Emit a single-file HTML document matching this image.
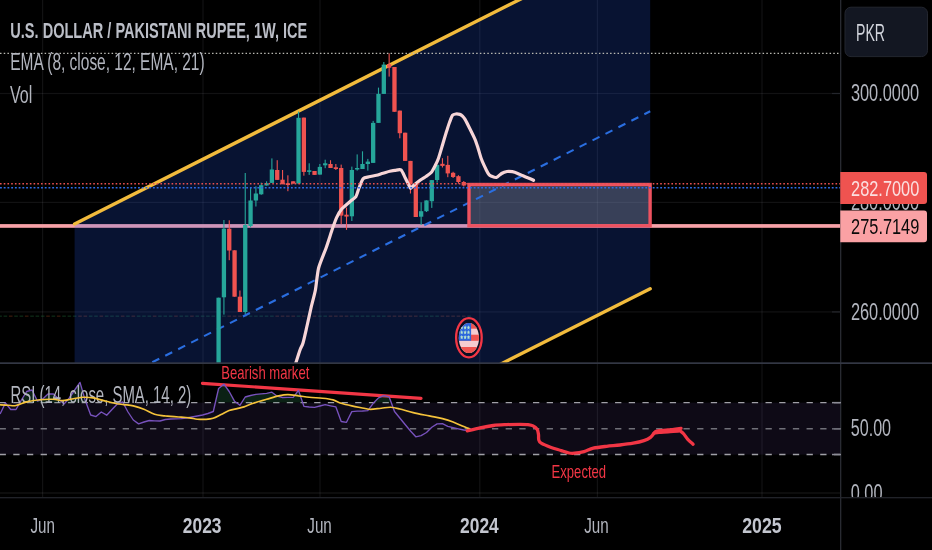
<!DOCTYPE html>
<html><head><meta charset="utf-8"><title>USDPKR</title>
<style>
html,body{margin:0;padding:0;background:#000;}
body{width:932px;height:550px;overflow:hidden;}
svg{display:block;}
text{font-family:"Liberation Sans",sans-serif;}
</style></head><body>
<svg width="932" height="550" viewBox="0 0 932 550">
<defs>
<clipPath id="main"><rect x="0" y="0" width="841" height="363"/></clipPath>
<clipPath id="rsip"><rect x="0" y="364" width="841" height="133"/></clipPath>
<clipPath id="ob"><rect x="0" y="364" width="841" height="38.6"/></clipPath>
<clipPath id="axr"><rect x="841" y="364" width="91" height="133.2"/></clipPath>
<clipPath id="flag"><ellipse cx="468.9" cy="338" rx="10.1" ry="15.1"/></clipPath>
</defs>
<rect width="932" height="550" fill="#000"/>
<!-- main pane -->
<g clip-path="url(#main)">
<rect x="42.0" y="0" width="1.2" height="497" fill="#f0f3fa" fill-opacity="0.075"/><rect x="202.4" y="0" width="1.2" height="497" fill="#f0f3fa" fill-opacity="0.075"/><rect x="319.4" y="0" width="1.2" height="497" fill="#f0f3fa" fill-opacity="0.075"/><rect x="479.2" y="0" width="1.2" height="497" fill="#f0f3fa" fill-opacity="0.075"/><rect x="596.8" y="0" width="1.2" height="497" fill="#f0f3fa" fill-opacity="0.075"/><rect x="761.4" y="0" width="1.2" height="497" fill="#f0f3fa" fill-opacity="0.075"/><rect x="0" y="92.9" width="841" height="1.2" fill="#f0f3fa" fill-opacity="0.075"/><rect x="0" y="201.8" width="841" height="1.2" fill="#f0f3fa" fill-opacity="0.075"/><rect x="0" y="311.3" width="841" height="1.2" fill="#f0f3fa" fill-opacity="0.075"/>
<rect x="-1.74" y="315.6" width="3.6" height="1.1" fill="#2e8a4a" fill-opacity="0.36"/><rect x="3.59" y="315.6" width="3.6" height="1.1" fill="#2e8a4a" fill-opacity="0.36"/><rect x="8.92" y="315.6" width="3.6" height="1.1" fill="#b4522a" fill-opacity="0.36"/><rect x="14.25" y="315.6" width="3.6" height="1.1" fill="#2e8a4a" fill-opacity="0.36"/><rect x="19.58" y="315.6" width="3.6" height="1.1" fill="#2e8a4a" fill-opacity="0.36"/><rect x="24.91" y="315.6" width="3.6" height="1.1" fill="#b4522a" fill-opacity="0.36"/><rect x="30.24" y="315.6" width="3.6" height="1.1" fill="#2e8a4a" fill-opacity="0.36"/><rect x="35.57" y="315.6" width="3.6" height="1.1" fill="#2e8a4a" fill-opacity="0.36"/><rect x="40.90" y="315.6" width="3.6" height="1.1" fill="#2e8a4a" fill-opacity="0.36"/><rect x="46.23" y="315.6" width="3.6" height="1.1" fill="#b4522a" fill-opacity="0.36"/><rect x="51.56" y="315.6" width="3.6" height="1.1" fill="#2e8a4a" fill-opacity="0.36"/><rect x="56.89" y="315.6" width="3.6" height="1.1" fill="#b4522a" fill-opacity="0.36"/><rect x="62.22" y="315.6" width="3.6" height="1.1" fill="#2e8a4a" fill-opacity="0.36"/><rect x="67.55" y="315.6" width="3.6" height="1.1" fill="#2e8a4a" fill-opacity="0.36"/><rect x="72.88" y="315.6" width="3.6" height="1.1" fill="#2e8a4a" fill-opacity="0.36"/><rect x="78.21" y="315.6" width="3.6" height="1.1" fill="#b4522a" fill-opacity="0.36"/><rect x="83.54" y="315.6" width="3.6" height="1.1" fill="#b4522a" fill-opacity="0.36"/><rect x="88.87" y="315.6" width="3.6" height="1.1" fill="#2e8a4a" fill-opacity="0.36"/><rect x="94.20" y="315.6" width="3.6" height="1.1" fill="#2e8a4a" fill-opacity="0.36"/><rect x="99.53" y="315.6" width="3.6" height="1.1" fill="#b4522a" fill-opacity="0.36"/><rect x="104.86" y="315.6" width="3.6" height="1.1" fill="#2e8a4a" fill-opacity="0.36"/><rect x="110.19" y="315.6" width="3.6" height="1.1" fill="#2e8a4a" fill-opacity="0.36"/><rect x="115.52" y="315.6" width="3.6" height="1.1" fill="#2e8a4a" fill-opacity="0.36"/><rect x="120.85" y="315.6" width="3.6" height="1.1" fill="#b4522a" fill-opacity="0.36"/><rect x="126.18" y="315.6" width="3.6" height="1.1" fill="#2e8a4a" fill-opacity="0.36"/><rect x="131.51" y="315.6" width="3.6" height="1.1" fill="#b4522a" fill-opacity="0.36"/><rect x="136.84" y="315.6" width="3.6" height="1.1" fill="#2e8a4a" fill-opacity="0.36"/><rect x="142.17" y="315.6" width="3.6" height="1.1" fill="#2e8a4a" fill-opacity="0.36"/><rect x="147.50" y="315.6" width="3.6" height="1.1" fill="#2e8a4a" fill-opacity="0.36"/><rect x="152.83" y="315.6" width="3.6" height="1.1" fill="#b4522a" fill-opacity="0.36"/><rect x="158.16" y="315.6" width="3.6" height="1.1" fill="#2e8a4a" fill-opacity="0.36"/><rect x="163.49" y="315.6" width="3.6" height="1.1" fill="#2e8a4a" fill-opacity="0.36"/><rect x="168.82" y="315.6" width="3.6" height="1.1" fill="#2e8a4a" fill-opacity="0.36"/><rect x="174.15" y="315.6" width="3.6" height="1.1" fill="#b4522a" fill-opacity="0.36"/><rect x="179.48" y="315.6" width="3.6" height="1.1" fill="#2e8a4a" fill-opacity="0.36"/><rect x="184.81" y="315.6" width="3.6" height="1.1" fill="#2e8a4a" fill-opacity="0.36"/><rect x="190.14" y="315.6" width="3.6" height="1.1" fill="#b4522a" fill-opacity="0.36"/><rect x="195.47" y="315.6" width="3.6" height="1.1" fill="#2e8a4a" fill-opacity="0.36"/><rect x="200.80" y="315.6" width="3.6" height="1.1" fill="#2e8a4a" fill-opacity="0.36"/><rect x="206.13" y="315.6" width="3.6" height="1.1" fill="#2e8a4a" fill-opacity="0.36"/><rect x="211.46" y="315.6" width="3.6" height="1.1" fill="#2e8a4a" fill-opacity="0.36"/><rect x="216.79" y="315.6" width="3.6" height="1.1" fill="#2e8a4a" fill-opacity="0.36"/><rect x="222.12" y="315.6" width="3.6" height="1.1" fill="#2e8a4a" fill-opacity="0.36"/><rect x="227.45" y="315.6" width="3.6" height="1.1" fill="#b4522a" fill-opacity="0.36"/><rect x="232.78" y="315.6" width="3.6" height="1.1" fill="#b4522a" fill-opacity="0.36"/><rect x="238.11" y="315.6" width="3.6" height="1.1" fill="#b4522a" fill-opacity="0.36"/><rect x="243.44" y="315.6" width="3.6" height="1.1" fill="#2e8a4a" fill-opacity="0.36"/><rect x="248.77" y="315.6" width="3.6" height="1.1" fill="#2e8a4a" fill-opacity="0.36"/><rect x="254.10" y="315.6" width="3.6" height="1.1" fill="#2e8a4a" fill-opacity="0.36"/><rect x="259.43" y="315.6" width="3.6" height="1.1" fill="#2e8a4a" fill-opacity="0.36"/><rect x="264.76" y="315.6" width="3.6" height="1.1" fill="#2e8a4a" fill-opacity="0.36"/><rect x="270.09" y="315.6" width="3.6" height="1.1" fill="#2e8a4a" fill-opacity="0.36"/><rect x="275.42" y="315.6" width="3.6" height="1.1" fill="#b4522a" fill-opacity="0.36"/><rect x="280.75" y="315.6" width="3.6" height="1.1" fill="#b4522a" fill-opacity="0.36"/><rect x="286.08" y="315.6" width="3.6" height="1.1" fill="#b4522a" fill-opacity="0.36"/><rect x="291.41" y="315.6" width="3.6" height="1.1" fill="#b4522a" fill-opacity="0.36"/><rect x="296.74" y="315.6" width="3.6" height="1.1" fill="#2e8a4a" fill-opacity="0.36"/><rect x="302.07" y="315.6" width="3.6" height="1.1" fill="#b4522a" fill-opacity="0.36"/><rect x="307.40" y="315.6" width="3.6" height="1.1" fill="#2e8a4a" fill-opacity="0.36"/><rect x="312.73" y="315.6" width="3.6" height="1.1" fill="#b4522a" fill-opacity="0.36"/><rect x="318.06" y="315.6" width="3.6" height="1.1" fill="#2e8a4a" fill-opacity="0.36"/><rect x="323.39" y="315.6" width="3.6" height="1.1" fill="#2e8a4a" fill-opacity="0.36"/><rect x="328.72" y="315.6" width="3.6" height="1.1" fill="#b4522a" fill-opacity="0.36"/><rect x="334.05" y="315.6" width="3.6" height="1.1" fill="#b4522a" fill-opacity="0.36"/><rect x="339.38" y="315.6" width="3.6" height="1.1" fill="#b4522a" fill-opacity="0.36"/><rect x="344.71" y="315.6" width="3.6" height="1.1" fill="#b4522a" fill-opacity="0.36"/><rect x="350.04" y="315.6" width="3.6" height="1.1" fill="#2e8a4a" fill-opacity="0.36"/><rect x="355.37" y="315.6" width="3.6" height="1.1" fill="#2e8a4a" fill-opacity="0.36"/><rect x="360.70" y="315.6" width="3.6" height="1.1" fill="#2e8a4a" fill-opacity="0.36"/><rect x="366.03" y="315.6" width="3.6" height="1.1" fill="#2e8a4a" fill-opacity="0.36"/><rect x="371.36" y="315.6" width="3.6" height="1.1" fill="#2e8a4a" fill-opacity="0.36"/><rect x="376.69" y="315.6" width="3.6" height="1.1" fill="#2e8a4a" fill-opacity="0.36"/><rect x="382.02" y="315.6" width="3.6" height="1.1" fill="#2e8a4a" fill-opacity="0.36"/><rect x="387.35" y="315.6" width="3.6" height="1.1" fill="#b4522a" fill-opacity="0.36"/><rect x="392.68" y="315.6" width="3.6" height="1.1" fill="#b4522a" fill-opacity="0.36"/><rect x="398.01" y="315.6" width="3.6" height="1.1" fill="#b4522a" fill-opacity="0.36"/><rect x="403.34" y="315.6" width="3.6" height="1.1" fill="#b4522a" fill-opacity="0.36"/><rect x="408.67" y="315.6" width="3.6" height="1.1" fill="#b4522a" fill-opacity="0.36"/><rect x="414.00" y="315.6" width="3.6" height="1.1" fill="#b4522a" fill-opacity="0.36"/><rect x="419.33" y="315.6" width="3.6" height="1.1" fill="#2e8a4a" fill-opacity="0.36"/><rect x="424.66" y="315.6" width="3.6" height="1.1" fill="#2e8a4a" fill-opacity="0.36"/><rect x="429.99" y="315.6" width="3.6" height="1.1" fill="#2e8a4a" fill-opacity="0.36"/><rect x="435.32" y="315.6" width="3.6" height="1.1" fill="#2e8a4a" fill-opacity="0.36"/><rect x="440.65" y="315.6" width="3.6" height="1.1" fill="#b4522a" fill-opacity="0.36"/><rect x="445.98" y="315.6" width="3.6" height="1.1" fill="#b4522a" fill-opacity="0.36"/><rect x="451.31" y="315.6" width="3.6" height="1.1" fill="#b4522a" fill-opacity="0.36"/><rect x="456.64" y="315.6" width="3.6" height="1.1" fill="#b4522a" fill-opacity="0.36"/><rect x="461.97" y="315.6" width="3.6" height="1.1" fill="#b4522a" fill-opacity="0.36"/><rect x="467.30" y="315.6" width="3.6" height="1.1" fill="#2e8a4a" fill-opacity="0.36"/>
<rect x="0" y="224.1" width="841" height="3.7" fill="#f7a1a7"/>
<polygon points="74.6,223.9 650.2,-66.2 650.2,288.8 74.6,578.9" fill="#2962ff" fill-opacity="0.195"/>
<line x1="74.6" y1="223.9" x2="650.2" y2="-66.2" stroke="#f2bb3c" stroke-width="3.4" stroke-linecap="round"/>
<line x1="74.6" y1="578.9" x2="650.2" y2="288.8" stroke="#f2bb3c" stroke-width="3.4" stroke-linecap="round"/>
<!-- rectangle -->
<rect x="469" y="184.4" width="181.1" height="41.4" fill="#9598a1" fill-opacity="0.34"/>
<line x1="74.6" y1="401.4" x2="650.2" y2="111.3" stroke="#2a6ee0" stroke-width="2.1" stroke-dasharray="7.8 6.7"/>
<rect x="469" y="184.5" width="181.1" height="41.3" fill="none" stroke="#ee5260" stroke-width="3.4"/>
<!-- candles -->
<rect x="218.04" y="297.7" width="1.1" height="66.3" fill="#26a69a"/>
<rect x="216.44" y="297.7" width="4.3" height="66.3" fill="#26a69a"/>
<rect x="223.37" y="220.0" width="1.1" height="94.6" fill="#26a69a"/>
<rect x="221.77" y="228.7" width="4.3" height="68.6" fill="#26a69a"/>
<rect x="228.70" y="220.3" width="1.1" height="39.9" fill="#ef5350"/>
<rect x="227.10" y="228.7" width="4.3" height="21.8" fill="#ef5350"/>
<rect x="234.03" y="250.3" width="1.1" height="46.4" fill="#ef5350"/>
<rect x="232.43" y="250.3" width="4.3" height="46.4" fill="#ef5350"/>
<rect x="239.36" y="290.5" width="1.1" height="21.5" fill="#ef5350"/>
<rect x="237.76" y="296.7" width="4.3" height="15.3" fill="#ef5350"/>
<rect x="244.69" y="173.0" width="1.1" height="141.0" fill="#26a69a"/>
<rect x="243.09" y="225.0" width="4.3" height="87.0" fill="#26a69a"/>
<rect x="250.02" y="187.5" width="1.1" height="39.9" fill="#26a69a"/>
<rect x="248.42" y="200.5" width="4.3" height="25.5" fill="#26a69a"/>
<rect x="255.35" y="186.3" width="1.1" height="20.2" fill="#26a69a"/>
<rect x="253.75" y="193.5" width="4.3" height="7.0" fill="#26a69a"/>
<rect x="260.68" y="182.6" width="1.1" height="12.2" fill="#26a69a"/>
<rect x="259.08" y="185.2" width="4.3" height="9.1" fill="#26a69a"/>
<rect x="266.01" y="181.3" width="1.1" height="4.2" fill="#26a69a"/>
<rect x="264.41" y="183.2" width="4.3" height="2.3" fill="#26a69a"/>
<rect x="271.34" y="158.4" width="1.1" height="24.5" fill="#26a69a"/>
<rect x="269.74" y="169.5" width="4.3" height="13.4" fill="#26a69a"/>
<rect x="276.67" y="160.2" width="1.1" height="19.7" fill="#ef5350"/>
<rect x="275.07" y="170.0" width="4.3" height="9.9" fill="#ef5350"/>
<rect x="282.00" y="170.0" width="1.1" height="14.2" fill="#ef5350"/>
<rect x="280.40" y="179.7" width="4.3" height="4.5" fill="#ef5350"/>
<rect x="287.33" y="175.3" width="1.1" height="15.9" fill="#ef5350"/>
<rect x="285.73" y="183.2" width="4.3" height="1.8" fill="#ef5350"/>
<rect x="292.66" y="181.3" width="1.1" height="2.3" fill="#ef5350"/>
<rect x="291.06" y="181.3" width="4.3" height="2.3" fill="#ef5350"/>
<rect x="297.99" y="111.6" width="1.1" height="72.0" fill="#26a69a"/>
<rect x="296.39" y="117.8" width="4.3" height="65.8" fill="#26a69a"/>
<rect x="303.32" y="117.6" width="1.1" height="58.1" fill="#ef5350"/>
<rect x="301.72" y="117.6" width="4.3" height="54.3" fill="#ef5350"/>
<rect x="308.65" y="163.3" width="1.1" height="11.6" fill="#26a69a"/>
<rect x="307.05" y="170.3" width="4.3" height="1.6" fill="#26a69a"/>
<rect x="313.98" y="171.0" width="1.1" height="3.9" fill="#ef5350"/>
<rect x="312.38" y="171.0" width="4.3" height="3.9" fill="#ef5350"/>
<rect x="319.31" y="164.0" width="1.1" height="10.6" fill="#26a69a"/>
<rect x="317.71" y="166.9" width="4.3" height="7.7" fill="#26a69a"/>
<rect x="324.64" y="159.7" width="1.1" height="8.5" fill="#26a69a"/>
<rect x="323.04" y="163.3" width="4.3" height="2.0" fill="#26a69a"/>
<rect x="329.97" y="160.2" width="1.1" height="7.8" fill="#ef5350"/>
<rect x="328.37" y="164.0" width="4.3" height="4.0" fill="#ef5350"/>
<rect x="335.30" y="164.0" width="1.1" height="6.0" fill="#ef5350"/>
<rect x="333.70" y="167.3" width="4.3" height="1.7" fill="#ef5350"/>
<rect x="340.63" y="164.6" width="1.1" height="59.7" fill="#ef5350"/>
<rect x="339.03" y="168.0" width="4.3" height="47.6" fill="#ef5350"/>
<rect x="345.96" y="207.6" width="1.1" height="22.3" fill="#ef5350"/>
<rect x="344.36" y="214.7" width="4.3" height="1.9" fill="#ef5350"/>
<rect x="351.29" y="166.6" width="1.1" height="54.4" fill="#26a69a"/>
<rect x="349.69" y="170.0" width="4.3" height="46.3" fill="#26a69a"/>
<rect x="356.62" y="154.4" width="1.1" height="16.2" fill="#26a69a"/>
<rect x="355.02" y="168.0" width="4.3" height="1.5" fill="#26a69a"/>
<rect x="361.95" y="151.3" width="1.1" height="17.7" fill="#26a69a"/>
<rect x="360.35" y="164.0" width="4.3" height="5.0" fill="#26a69a"/>
<rect x="367.28" y="158.9" width="1.1" height="11.7" fill="#26a69a"/>
<rect x="365.68" y="161.6" width="4.3" height="2.4" fill="#26a69a"/>
<rect x="372.61" y="120.9" width="1.1" height="42.0" fill="#26a69a"/>
<rect x="371.01" y="122.9" width="4.3" height="40.0" fill="#26a69a"/>
<rect x="377.94" y="87.6" width="1.1" height="35.3" fill="#26a69a"/>
<rect x="376.34" y="93.9" width="4.3" height="29.0" fill="#26a69a"/>
<rect x="383.27" y="62.0" width="1.1" height="31.9" fill="#26a69a"/>
<rect x="381.67" y="64.6" width="4.3" height="29.3" fill="#26a69a"/>
<rect x="388.60" y="53.3" width="1.1" height="23.3" fill="#ef5350"/>
<rect x="387.00" y="64.2" width="4.3" height="3.5" fill="#ef5350"/>
<rect x="393.93" y="67.0" width="1.1" height="44.8" fill="#ef5350"/>
<rect x="392.33" y="67.0" width="4.3" height="44.8" fill="#ef5350"/>
<rect x="399.26" y="110.6" width="1.1" height="27.7" fill="#ef5350"/>
<rect x="397.66" y="110.6" width="4.3" height="22.6" fill="#ef5350"/>
<rect x="404.59" y="132.7" width="1.1" height="28.2" fill="#ef5350"/>
<rect x="402.99" y="132.7" width="4.3" height="28.2" fill="#ef5350"/>
<rect x="409.92" y="160.9" width="1.1" height="32.6" fill="#ef5350"/>
<rect x="408.32" y="160.9" width="4.3" height="23.1" fill="#ef5350"/>
<rect x="415.25" y="184.0" width="1.1" height="33.0" fill="#ef5350"/>
<rect x="413.65" y="184.0" width="4.3" height="33.0" fill="#ef5350"/>
<rect x="420.58" y="202.3" width="1.1" height="22.7" fill="#26a69a"/>
<rect x="418.98" y="211.2" width="4.3" height="5.5" fill="#26a69a"/>
<rect x="425.91" y="200.4" width="1.1" height="11.6" fill="#26a69a"/>
<rect x="424.31" y="200.4" width="4.3" height="10.8" fill="#26a69a"/>
<rect x="431.24" y="180.1" width="1.1" height="27.8" fill="#26a69a"/>
<rect x="429.64" y="180.1" width="4.3" height="21.1" fill="#26a69a"/>
<rect x="436.57" y="164.9" width="1.1" height="17.7" fill="#26a69a"/>
<rect x="434.97" y="164.9" width="4.3" height="15.1" fill="#26a69a"/>
<rect x="441.90" y="158.2" width="1.1" height="9.3" fill="#ef5350"/>
<rect x="440.30" y="163.8" width="4.3" height="2.1" fill="#ef5350"/>
<rect x="447.23" y="155.8" width="1.1" height="21.4" fill="#ef5350"/>
<rect x="445.63" y="164.9" width="4.3" height="8.5" fill="#ef5350"/>
<rect x="452.56" y="171.8" width="1.1" height="6.2" fill="#ef5350"/>
<rect x="450.96" y="172.8" width="4.3" height="4.2" fill="#ef5350"/>
<rect x="457.89" y="175.2" width="1.1" height="8.5" fill="#ef5350"/>
<rect x="456.29" y="176.2" width="4.3" height="5.8" fill="#ef5350"/>
<rect x="463.22" y="181.0" width="1.1" height="5.5" fill="#ef5350"/>
<rect x="461.62" y="182.0" width="4.3" height="3.5" fill="#ef5350"/>
<!-- EMA -->
<path d="M295.5,364.0 C296.0,362.4 299.2,352.3 300.0,350.0 C300.8,347.7 302.2,345.7 303.0,343.0 C303.8,340.3 306.1,329.9 307.0,326.0 C307.9,322.1 310.1,312.0 311.0,308.0 C311.9,304.0 314.6,294.4 315.4,290.0 C316.2,285.6 317.4,272.6 318.6,268.0 C319.8,263.4 324.4,252.6 326.0,248.2 C327.6,243.8 331.4,231.7 332.6,228.3 C333.8,224.9 335.6,219.8 336.6,217.6 C337.6,215.4 340.4,210.6 341.9,208.8 C343.4,207.0 348.3,203.1 349.9,201.7 C351.5,200.3 354.9,198.1 355.9,196.6 C356.9,195.1 358.2,190.0 359.0,188.0 C359.8,186.0 362.1,179.8 363.2,178.6 C364.3,177.4 367.5,177.2 369.0,176.8 C370.5,176.4 374.9,175.7 376.5,175.3 C378.1,174.9 381.5,173.6 383.0,173.2 C384.5,172.8 388.5,171.6 389.8,171.3 C391.1,171.0 393.7,170.4 395.0,170.3 C396.3,170.2 400.0,169.1 401.1,170.0 C402.2,170.9 404.4,176.2 405.3,178.0 C406.2,179.8 408.8,185.1 409.4,186.2 C410.0,187.3 410.3,188.2 410.6,188.3 C410.9,188.4 411.5,187.5 412.0,187.0 C412.5,186.5 414.1,185.0 415.0,184.2 C415.9,183.4 419.2,180.9 420.4,180.0 C421.6,179.1 424.8,177.3 426.0,176.5 C427.2,175.7 430.2,173.8 431.2,172.6 C432.2,171.4 434.2,167.6 435.0,166.0 C435.8,164.4 437.7,160.5 438.5,158.2 C439.3,155.9 441.6,148.0 442.5,145.0 C443.4,142.0 445.7,134.1 446.5,131.6 C447.3,129.1 448.8,124.3 449.5,122.5 C450.2,120.7 451.8,116.2 452.5,115.3 C453.2,114.4 455.0,114.1 455.8,114.0 C456.6,113.9 459.1,114.2 459.8,114.4 C460.5,114.6 461.9,115.6 462.5,116.2 C463.1,116.8 464.4,118.2 465.2,119.6 C466.0,121.0 468.9,126.8 470.0,129.0 C471.1,131.2 474.2,137.5 475.1,139.6 C476.0,141.7 477.3,145.9 478.0,148.0 C478.7,150.1 480.4,156.3 481.1,158.2 C481.8,160.1 483.4,163.9 484.0,165.2 C484.6,166.5 485.9,169.2 486.4,170.2 C486.9,171.2 488.4,173.8 488.9,174.4 C489.4,175.0 490.2,175.6 491.0,175.9 C491.8,176.2 495.1,177.8 496.3,177.5 C497.5,177.2 500.4,174.2 501.6,173.5 C502.8,172.8 505.8,171.7 507.0,171.5 C508.2,171.3 511.1,171.5 512.3,171.7 C513.5,171.9 516.5,172.9 517.7,173.4 C518.9,173.9 521.8,175.3 523.0,175.8 C524.2,176.3 527.1,177.5 528.3,178.0 C529.5,178.5 532.9,180.0 533.5,180.3" fill="none" stroke="#f7d5d7" stroke-width="3.2" stroke-linecap="round" stroke-linejoin="round"/>
<!-- price lines -->
<line x1="0" y1="53.3" x2="841" y2="53.3" stroke="#b9b9b2" stroke-width="1.35" stroke-dasharray="1.5 2.22"/>
<line x1="0" y1="183.7" x2="841" y2="183.7" stroke="#e9514f" stroke-width="1.6" stroke-dasharray="1.6 2.13"/>
<line x1="0" y1="187.7" x2="841" y2="187.7" stroke="#306de6" stroke-width="1.6" stroke-dasharray="1.85 1.88"/>
<!-- flag -->
<ellipse cx="468.9" cy="337.8" rx="12.8" ry="19.6" fill="#0a0f22" stroke="#f23645" stroke-width="2.3"/>
<g clip-path="url(#flag)">
<rect x="458" y="322" width="22" height="32" fill="#f5ccd0"/>
<rect x="458" y="322.5" width="22" height="6.2" fill="#ef5350"/>
<rect x="458" y="334.7" width="22" height="6.1" fill="#ef5350"/>
<rect x="458" y="347" width="22" height="7" fill="#ef5350"/>
<rect x="458" y="322" width="13.1" height="18.8" fill="#2b66dc"/>
<g fill="#b5e3cf"><polygon points="461.70,325.20 462.20,326.63 463.32,326.86 462.51,327.97 462.70,329.54 461.70,328.80 460.70,329.54 460.89,327.97 460.08,326.86 461.20,326.63"/><polygon points="465.10,325.20 465.60,326.63 466.72,326.86 465.91,327.97 466.10,329.54 465.10,328.80 464.10,329.54 464.29,327.97 463.48,326.86 464.60,326.63"/><polygon points="468.50,325.20 469.00,326.63 470.12,326.86 469.31,327.97 469.50,329.54 468.50,328.80 467.50,329.54 467.69,327.97 466.88,326.86 468.00,326.63"/><polygon points="461.70,330.00 462.20,331.43 463.32,331.66 462.51,332.77 462.70,334.34 461.70,333.60 460.70,334.34 460.89,332.77 460.08,331.66 461.20,331.43"/><polygon points="465.10,330.00 465.60,331.43 466.72,331.66 465.91,332.77 466.10,334.34 465.10,333.60 464.10,334.34 464.29,332.77 463.48,331.66 464.60,331.43"/><polygon points="468.50,330.00 469.00,331.43 470.12,331.66 469.31,332.77 469.50,334.34 468.50,333.60 467.50,334.34 467.69,332.77 466.88,331.66 468.00,331.43"/><polygon points="461.70,334.90 462.20,336.33 463.32,336.56 462.51,337.67 462.70,339.24 461.70,338.50 460.70,339.24 460.89,337.67 460.08,336.56 461.20,336.33"/><polygon points="465.10,334.90 465.60,336.33 466.72,336.56 465.91,337.67 466.10,339.24 465.10,338.50 464.10,339.24 464.29,337.67 463.48,336.56 464.60,336.33"/><polygon points="468.50,334.90 469.00,336.33 470.12,336.56 469.31,337.67 469.50,339.24 468.50,338.50 467.50,339.24 467.69,337.67 466.88,336.56 468.00,336.33"/></g>
</g>
</g>
<!-- legend -->
<text x="10.3" y="38.3" font-size="22" font-weight="bold" fill="#bbbec7" textLength="297" lengthAdjust="spacingAndGlyphs" text-anchor="start">U.S. DOLLAR / PAKISTANI RUPEE, 1W, ICE</text>
<text x="10.3" y="70.3" font-size="23" font-weight="normal" fill="#b2b5be" textLength="194.3" lengthAdjust="spacingAndGlyphs" text-anchor="start">EMA (8, close, 12, EMA, 21)</text>
<text x="10" y="102.6" font-size="23.3" font-weight="normal" fill="#b2b5be" textLength="22.3" lengthAdjust="spacingAndGlyphs" text-anchor="start">Vol</text>
<!-- pane separator -->
<!-- RSI pane -->
<g clip-path="url(#rsip)">
<rect x="0" y="402.6" width="841" height="52" fill="#7e57c2" fill-opacity="0.115"/>
<g><rect x="42.0" y="364" width="1.2" height="133" fill="#f0f3fa" fill-opacity="0.075"/><rect x="202.4" y="364" width="1.2" height="133" fill="#f0f3fa" fill-opacity="0.075"/><rect x="319.4" y="364" width="1.2" height="133" fill="#f0f3fa" fill-opacity="0.075"/><rect x="479.2" y="364" width="1.2" height="133" fill="#f0f3fa" fill-opacity="0.075"/><rect x="596.8" y="364" width="1.2" height="133" fill="#f0f3fa" fill-opacity="0.075"/><rect x="761.4" y="364" width="1.2" height="133" fill="#f0f3fa" fill-opacity="0.075"/></g>
<rect x="0" y="492.4" width="841" height="1.2" fill="#f0f3fa" fill-opacity="0.09"/>
<line x1="-0.4" y1="402.6" x2="841" y2="402.6" stroke="#a0a0a7" stroke-width="1.45" stroke-dasharray="6.3 7.377"/>
<line x1="-0.4" y1="428.8" x2="841" y2="428.8" stroke="#707078" stroke-width="1.45" stroke-dasharray="6.3 7.377"/>
<line x1="-0.4" y1="454.5" x2="841" y2="454.5" stroke="#a0a0a7" stroke-width="1.45" stroke-dasharray="6.3 7.377"/>
<line x1="202.5" y1="383.3" x2="421" y2="398.4" stroke="#f23645" stroke-width="3.2" stroke-linecap="round"/>
<g clip-path="url(#ob)"><polygon points="0.1,414.0 5.4,403.0 10.7,409.5 16.0,409.5 21.4,400.0 26.7,391.5 32.0,390.0 37.4,401.0 42.7,399.0 48.0,394.0 53.4,394.0 58.7,399.0 64.0,404.0 69.3,398.0 74.7,390.0 80.0,382.4 85.3,400.6 90.7,415.0 96.0,416.6 101.3,412.0 106.7,415.2 112.0,409.5 117.3,404.0 122.6,402.0 128.0,412.0 133.3,420.0 138.6,423.9 144.0,422.0 149.3,420.5 154.6,420.8 160.0,421.0 165.3,419.5 170.6,419.0 175.9,418.8 181.3,418.7 186.6,418.0 191.9,417.0 197.3,416.0 202.6,415.0 207.9,413.5 213.3,411.5 218.6,388.5 223.9,384.2 229.2,391.5 234.6,401.3 239.9,405.3 245.2,397.0 250.6,395.5 255.9,394.4 261.2,393.8 266.6,393.3 271.9,392.2 277.2,396.2 282.6,397.5 287.9,397.4 293.2,397.3 298.5,390.4 303.9,406.3 309.2,407.0 314.5,407.3 319.9,406.0 325.2,404.6 330.5,405.8 335.9,406.9 341.2,421.5 346.5,422.3 351.8,411.6 357.2,411.1 362.5,411.0 367.8,410.6 373.2,403.3 378.5,397.9 383.8,395.7 389.1,396.8 394.5,411.5 399.8,418.0 405.1,424.5 410.5,431.0 415.8,436.8 421.1,435.6 426.5,432.5 431.8,427.2 437.1,423.9 442.4,423.6 447.8,426.3 453.1,427.6 458.4,428.8 463.8,430.0 469.1,430.5 469.1,403 0.1,403" fill="#2a7a4c" fill-opacity="0.27"/></g>
<polyline points="0.1,414.0 5.4,403.0 10.7,409.5 16.0,409.5 21.4,400.0 26.7,391.5 32.0,390.0 37.4,401.0 42.7,399.0 48.0,394.0 53.4,394.0 58.7,399.0 64.0,404.0 69.3,398.0 74.7,390.0 80.0,382.4 85.3,400.6 90.7,415.0 96.0,416.6 101.3,412.0 106.7,415.2 112.0,409.5 117.3,404.0 122.6,402.0 128.0,412.0 133.3,420.0 138.6,423.9 144.0,422.0 149.3,420.5 154.6,420.8 160.0,421.0 165.3,419.5 170.6,419.0 175.9,418.8 181.3,418.7 186.6,418.0 191.9,417.0 197.3,416.0 202.6,415.0 207.9,413.5 213.3,411.5 218.6,388.5 223.9,384.2 229.2,391.5 234.6,401.3 239.9,405.3 245.2,397.0 250.6,395.5 255.9,394.4 261.2,393.8 266.6,393.3 271.9,392.2 277.2,396.2 282.6,397.5 287.9,397.4 293.2,397.3 298.5,390.4 303.9,406.3 309.2,407.0 314.5,407.3 319.9,406.0 325.2,404.6 330.5,405.8 335.9,406.9 341.2,421.5 346.5,422.3 351.8,411.6 357.2,411.1 362.5,411.0 367.8,410.6 373.2,403.3 378.5,397.9 383.8,395.7 389.1,396.8 394.5,411.5 399.8,418.0 405.1,424.5 410.5,431.0 415.8,436.8 421.1,435.6 426.5,432.5 431.8,427.2 437.1,423.9 442.4,423.6 447.8,426.3 453.1,427.6 458.4,428.8 463.8,430.0 469.1,430.5" fill="none" stroke="#7852bd" stroke-width="1.35" stroke-linejoin="round"/>
<text x="10.5" y="403.1" font-size="23.3" font-weight="normal" fill="#b2b5be" textLength="180.7" lengthAdjust="spacingAndGlyphs" text-anchor="start">RSI (14, close, SMA, 14, 2)</text>
<path d="M-1.0,404.7 C0.5,404.8 5.2,405.2 8.0,405.3 C10.8,405.4 12.9,406.1 16.0,405.5 C19.1,404.9 22.6,402.9 26.6,401.9 C30.6,400.9 35.5,400.1 39.9,399.7 C44.3,399.3 49.4,399.1 53.2,399.3 C57.0,399.5 59.6,400.6 62.5,400.6 C65.4,400.6 67.2,399.9 70.5,399.3 C73.8,398.8 78.7,397.5 82.5,397.3 C86.3,397.1 89.1,397.2 93.1,397.9 C97.1,398.6 102.4,400.3 106.4,401.3 C110.4,402.3 114.2,403.1 117.1,403.7 C120.0,404.2 121.3,404.2 124.0,404.6 C126.7,405.0 130.0,405.1 133.3,405.9 C136.6,406.7 140.4,407.9 143.9,409.3 C147.4,410.7 151.1,413.2 154.6,414.3 C158.1,415.4 161.2,415.4 165.2,415.9 C169.2,416.3 174.5,416.7 178.5,417.0 C182.5,417.3 186.1,417.5 189.2,417.9 C192.3,418.3 194.5,418.9 197.2,419.2 C199.9,419.4 202.5,419.5 205.2,419.4 C207.8,419.2 210.4,419.1 213.1,418.3 C215.8,417.5 218.4,415.9 221.1,414.6 C223.8,413.3 226.4,411.6 229.1,410.6 C231.8,409.6 234.6,409.2 237.1,408.6 C239.6,408.0 241.3,407.8 244.0,406.9 C246.7,406.0 249.5,404.6 253.3,403.3 C257.1,402.0 262.4,400.5 266.6,399.3 C270.8,398.1 275.1,396.7 278.6,395.9 C282.2,395.1 284.6,394.6 287.9,394.6 C291.2,394.6 294.9,395.4 298.5,395.9 C302.1,396.3 305.2,396.9 309.2,397.3 C313.2,397.7 318.5,397.9 322.5,398.3 C326.5,398.7 330.0,399.1 333.1,399.9 C336.2,400.7 338.0,402.3 341.1,403.3 C344.2,404.3 348.0,405.1 351.8,405.9 C355.6,406.7 360.9,407.6 364.0,408.2 C367.1,408.8 367.7,409.3 370.6,409.3 C373.5,409.3 378.0,408.5 381.3,408.2 C384.6,407.9 387.5,407.2 390.6,407.3 C393.7,407.4 396.1,408.1 399.9,409.0 C403.7,409.9 408.3,411.5 413.2,412.6 C418.1,413.8 424.3,414.9 429.2,415.9 C434.1,416.9 438.5,417.6 442.5,418.6 C446.5,419.6 449.6,420.6 453.1,421.9 C456.7,423.2 461.1,425.5 463.8,426.6 C466.5,427.7 468.2,428.3 469.1,428.6" fill="none" stroke="#f5c33b" stroke-width="1.65" stroke-linecap="round"/>
<path d="M467.3,430.9 C469.4,430.4 475.7,428.8 480.0,427.9 C484.3,427.0 488.9,426.1 493.3,425.5 C497.7,424.9 502.2,424.8 506.6,424.6 C511.0,424.4 516.4,424.3 519.9,424.3 C523.4,424.3 525.7,424.3 527.9,424.6 C530.1,424.9 531.7,425.1 533.2,425.9 C534.8,426.7 536.3,427.9 537.2,429.3 C538.1,430.8 538.2,432.8 538.5,434.6 C538.8,436.4 538.3,438.5 538.8,439.9 C539.2,441.3 539.2,442.0 541.2,443.2 C543.2,444.4 547.2,446.0 550.5,447.2 C553.8,448.4 558.0,449.6 561.1,450.6 C564.2,451.6 566.9,452.6 569.1,453.0 C571.3,453.4 571.9,453.4 574.4,453.2 C576.9,453.0 580.9,452.4 584.0,451.6 C587.1,450.8 589.5,449.1 593.3,448.2 C597.1,447.3 602.2,446.8 606.6,446.3 C611.0,445.8 615.5,445.5 619.9,445.0 C624.3,444.5 629.2,443.9 633.2,443.2 C637.2,442.5 641.0,441.6 643.9,440.6 C646.8,439.6 648.7,438.6 650.5,437.3 C652.3,436.0 653.4,433.7 654.5,432.6 C655.6,431.6 654.8,431.4 657.0,431.0 C659.2,430.6 664.0,430.4 668.0,430.0 C672.0,429.6 678.8,428.6 681.0,428.3" fill="none" stroke="#f23645" stroke-width="3.3" stroke-linecap="round" stroke-linejoin="round"/>
<path d="M654.0,433.2 C654.8,433.1 656.7,432.5 659.0,432.3 C661.3,432.1 664.8,432.0 668.0,431.8 C671.2,431.6 675.9,431.1 678.0,431.0 C680.1,430.9 679.5,430.7 680.5,431.2 C681.5,431.7 682.6,432.6 683.8,434.0 C685.0,435.4 686.2,437.6 687.8,439.3 C689.3,441.0 692.2,443.4 693.1,444.2" fill="none" stroke="#f23645" stroke-width="3.3" stroke-linecap="round" stroke-linejoin="round"/>
</g>
<text x="221.3" y="379.2" font-size="18.2" font-weight="normal" fill="#f23645" textLength="88" lengthAdjust="spacingAndGlyphs" text-anchor="start">Bearish market</text>
<text x="551.6" y="477.6" font-size="18.4" font-weight="normal" fill="#f23645" textLength="54.5" lengthAdjust="spacingAndGlyphs" text-anchor="start">Expected</text>
<!-- price axis -->
<rect x="841" y="0" width="91" height="550" fill="#000"/>
<rect x="840.1" y="0" width="1.2" height="550" fill="#2d2f37"/>
<rect x="845" y="7.2" width="82.5" height="49.4" rx="6" ry="6" fill="#131722" stroke="#23262f" stroke-width="1"/>
<text x="856" y="40.6" font-size="23" font-weight="normal" fill="#d1d4dc" textLength="29" lengthAdjust="spacingAndGlyphs" text-anchor="start">PKR</text>
<text x="850.9" y="101.1" font-size="23.3" font-weight="normal" fill="#b2b5be" textLength="68.3" lengthAdjust="spacingAndGlyphs" text-anchor="start">300.0000</text>
<text x="850.9" y="210" font-size="23.3" font-weight="normal" fill="#b2b5be" textLength="68.3" lengthAdjust="spacingAndGlyphs" text-anchor="start">280.0000</text>
<text x="850.9" y="319.6" font-size="23.3" font-weight="normal" fill="#b2b5be" textLength="68.3" lengthAdjust="spacingAndGlyphs" text-anchor="start">260.0000</text>
<g clip-path="url(#axr)">
<text x="850.7" y="436.4" font-size="23.3" font-weight="normal" fill="#b2b5be" textLength="40.4" lengthAdjust="spacingAndGlyphs" text-anchor="start">50.00</text>
<text x="850.7" y="500.6" font-size="23.3" font-weight="normal" fill="#b2b5be" textLength="31.8" lengthAdjust="spacingAndGlyphs" text-anchor="start">0.00</text>
</g>
<!-- ticks -->
<rect x="0" y="362.3" width="932" height="1.7" fill="#333744"/>
<rect x="832" y="92.9" width="9" height="1.2" fill="#24262c"/>
<rect x="832" y="311.3" width="9" height="1.2" fill="#24262c"/>
<rect x="832" y="401.9" width="9" height="1.5" fill="#8c8c96"/>
<rect x="832" y="428.1" width="9" height="1.5" fill="#6c6c76"/>
<rect x="832" y="453.8" width="9" height="1.5" fill="#8c8c96"/>
<!-- price labels -->
<path d="M840.3,171.9 H924 a3,3 0 0 1 3,3 V201 a3,3 0 0 1 -3,3 H840.3 Z" fill="#ef5350"/>
<text x="851.1" y="196.1" font-size="22.8" font-weight="normal" fill="#fbdfe0" textLength="68.2" lengthAdjust="spacingAndGlyphs" text-anchor="start">282.7000</text>
<path d="M840.3,210.4 H924 a3,3 0 0 1 3,3 V239.3 a3,3 0 0 1 -3,3 H840.3 Z" fill="#faa1a4"/>
<text x="851.1" y="234" font-size="22.3" font-weight="normal" fill="#0a0a0a" textLength="68.2" lengthAdjust="spacingAndGlyphs" text-anchor="start">275.7149</text>
<!-- time axis -->
<rect x="0" y="497.1" width="932" height="1.2" fill="#25272e"/>
<text x="30.4" y="533" font-size="22" font-weight="normal" fill="#b2b5be" textLength="24.5" lengthAdjust="spacingAndGlyphs" text-anchor="start">Jun</text>
<text x="182.8" y="533" font-size="22" font-weight="bold" fill="#c3c6cf" textLength="38.7" lengthAdjust="spacingAndGlyphs" text-anchor="start">2023</text>
<text x="307.3" y="533" font-size="22" font-weight="normal" fill="#b2b5be" textLength="24.5" lengthAdjust="spacingAndGlyphs" text-anchor="start">Jun</text>
<text x="460.1" y="533" font-size="22" font-weight="bold" fill="#c3c6cf" textLength="38.7" lengthAdjust="spacingAndGlyphs" text-anchor="start">2024</text>
<text x="584.2" y="533" font-size="22" font-weight="normal" fill="#b2b5be" textLength="24.5" lengthAdjust="spacingAndGlyphs" text-anchor="start">Jun</text>
<text x="742.2" y="533" font-size="22" font-weight="bold" fill="#c3c6cf" textLength="39.4" lengthAdjust="spacingAndGlyphs" text-anchor="start">2025</text>
</svg>
</body></html>
